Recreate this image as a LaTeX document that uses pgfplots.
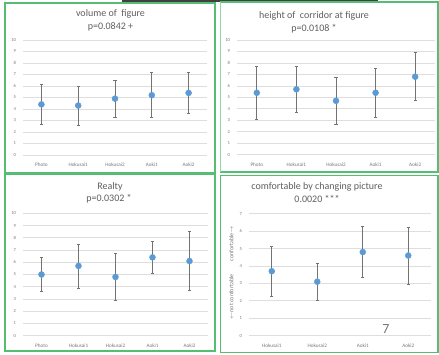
\documentclass[border=0pt]{standalone}
\usepackage{pgfplots}
\pgfplotsset{compat=1.18}
\usepackage{fontspec}
\setmainfont{Carlito}
\definecolor{mblue}{RGB}{91,155,213}
\definecolor{errgray}{RGB}{115,115,115}
\definecolor{gridgray}{RGB}{222,222,222}
\definecolor{textgray}{RGB}{95,95,95}
\definecolor{tickgray}{RGB}{120,120,120}
\definecolor{frame}{RGB}{85,190,115}
\definecolor{framelight}{RGB}{150,215,170}
\pgfplotsset{excel/.style={
  scale only axis, clip=false,
  axis line style={draw=none}, major tick length=0pt,
  ymajorgrids, grid style={draw=gridgray, line width=0.7pt},
  /pgf/number format/assume math mode=true,
  yticklabel style={font=\fontsize{4.6}{5}\selectfont, text=tickgray, xshift=-3.5pt},
  xticklabel style={font=\fontsize{5.2}{6}\selectfont, text=tickgray, yshift=-4.5pt},
  xtick={0,...,4}, xmin=-0.5, xmax=4.5,
  ymin=0, ymax=10, ytick={0,...,10},
  xticklabels={Photo,Hokusai1,Hokusai2,Aoki1,Aoki2},
  anchor=south west,
},
ser/.style={only marks, color=mblue, mark=*, mark size=3pt, mark options={fill=mblue, draw=mblue},
  error bars/.cd, y dir=both, y explicit,
  error bar style={draw=errgray, line width=0.8pt},
  error mark options={rotate=90, mark size=1.6pt, line width=0.8pt, draw=errgray}}
}
\begin{document}
\begin{tikzpicture}
\path[use as bounding box, fill=white] (0,0) rectangle (439pt,354pt);
% decorative dark strip at top
\fill[black!75] (122pt,352pt) rectangle (378pt,354pt);
% frames
\draw[frame, line width=1.1pt] (5pt,351pt) rectangle (215pt,181pt);
\draw[frame, line width=1.1pt] (220.7pt,352pt) rectangle (438pt,182pt);
\draw[framelight, line width=1.1pt] (220.7pt,352pt) -- (220.7pt,182pt);
\draw[frame, line width=1.1pt] (5pt,179.3pt) rectangle (215pt,3pt);
\draw[frame, line width=1.1pt] (220.7pt,178.7pt) rectangle (438pt,1.7pt);

% Panel 1
\begin{axis}[excel, at={(23pt,199pt)}, width=184pt, height=115pt]
\addplot[ser] coordinates {
(0,4.4) +- (0,1.7)
(1,4.3) +- (0,1.7)
(2,4.9) +- (0,1.6)
(3,5.2) +- (0,1.95)
(4,5.4) +- (0,1.75)
};
\end{axis}
% Panel 2
\begin{axis}[excel, at={(237pt,199.3pt)}, width=198pt, height=114.7pt]
\addplot[ser] coordinates {
(0,5.4) +- (0,2.3)
(1,5.7) +- (0,2.0)
(2,4.7) +- (0,2.05)
(3,5.4) +- (0,2.15)
(4,6.8) +- (0,2.1)
};
\end{axis}
% Panel 3
\begin{axis}[excel, at={(23pt,18.3pt)}, width=185pt, height=122.4pt]
\addplot[ser] coordinates {
(0,5.0) +- (0,1.4)
(1,5.7) +- (0,1.8)
(2,4.8) +- (0,1.9)
(3,6.4) +- (0,1.3)
(4,6.1) +- (0,2.4)
};
\end{axis}
% Panel 4
\begin{axis}[excel, at={(249pt,18.3pt)}, width=182pt, height=122pt,
  xmin=-0.5, xmax=3.5, xtick={0,...,3}, xticklabels={Hokusai1,Hokusai2,Aoki1,Aoki2},
  ymin=0, ymax=7, ytick={0,...,7}]
\addplot[ser] coordinates {
(0,3.7) +- (0,1.42)
(1,3.1) +- (0,1.05)
(2,4.8) +- (0,1.48)
(3,4.6) +- (0,1.63)
};
\end{axis}

% titles
\begin{scope}[every node/.style={font=\fontsize{10}{12}\selectfont, text=textgray, inner sep=0pt}]
\node at (110.5pt,340pt) {volume of\ \ figure};
\node at (110.5pt,327pt) {p=0.0842 +};
\node at (314pt,338pt) {height of\ \ corridor at figure};
\node at (314pt,325pt) {p=0.0108 *};
\node at (110pt,167pt) {Realty};
\node at (109pt,155pt) {p=0.0302 *};
\node at (317pt,167pt) {comfortable by changing picture};
\node at (317pt,155pt) {0.0020 ***};
\end{scope}
\node[rotate=90, font=\fontsize{6}{7}\selectfont, text=tickgray, inner sep=0pt] at (231.3pt,57pt) {$\leftarrow$not confortable};
\node[rotate=90, font=\fontsize{6}{7}\selectfont, text=tickgray, inner sep=0pt] at (231.3pt,110.3pt) {confortable$\rightarrow$};
\node[font=\fontsize{14}{16}\selectfont, text=tickgray, inner sep=0pt] at (386pt,25pt) {7};
\end{tikzpicture}
\end{document}
